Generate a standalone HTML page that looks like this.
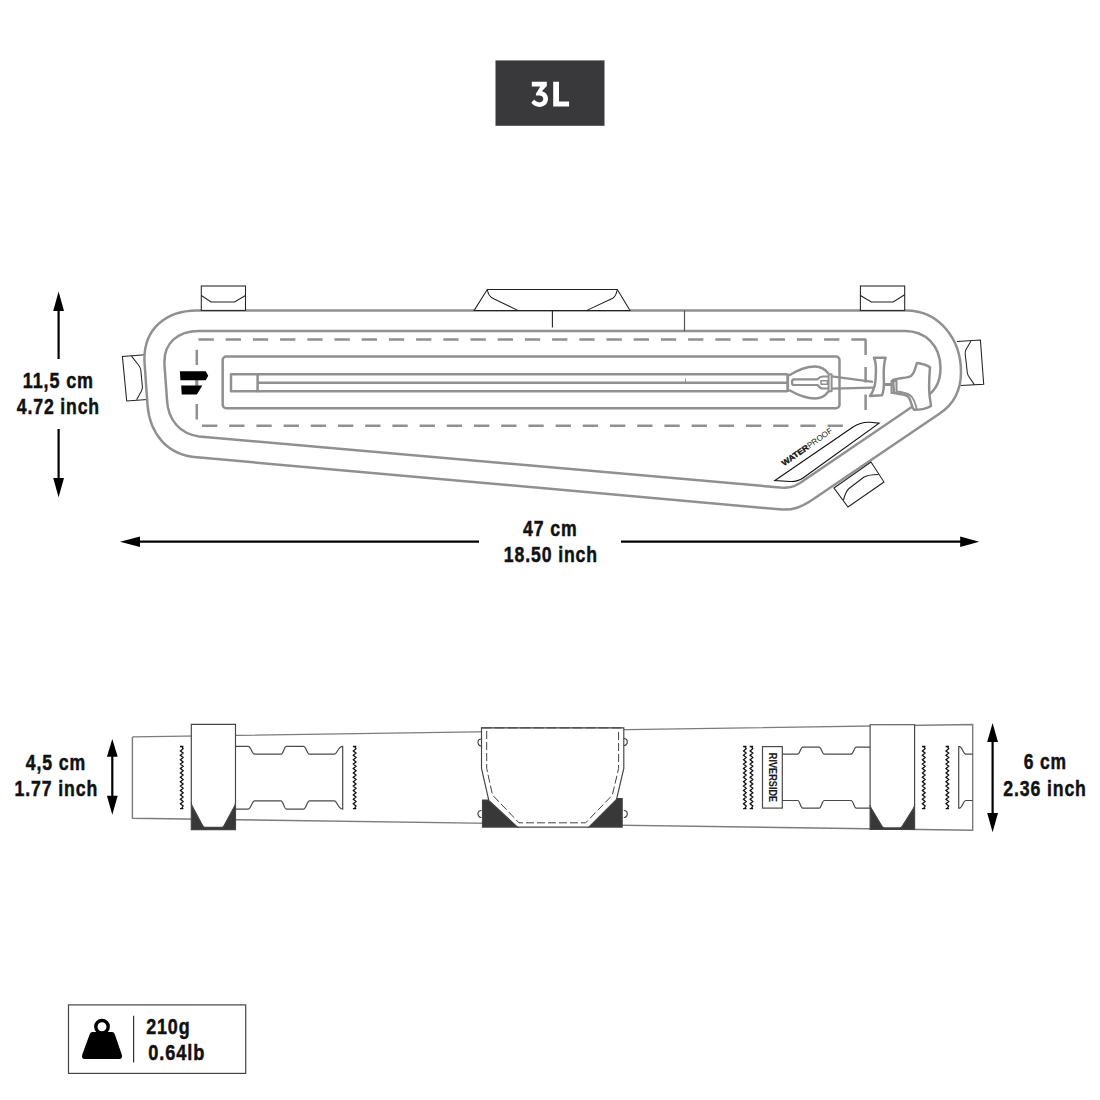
<!DOCTYPE html>
<html><head><meta charset="utf-8">
<style>
html,body{margin:0;padding:0;background:#fff;width:1100px;height:1100px;overflow:hidden;}
svg{display:block;}
text{font-family:"Liberation Sans",sans-serif;}
</style></head>
<body>
<svg width="1100" height="1100" viewBox="0 0 1100 1100">
<rect width="1100" height="1100" fill="#fff"/>

<!-- 3L badge -->
<rect x="495.5" y="60.4" width="109" height="65.4" fill="#39393b"/>
<path fill="#fff" d="M 531.8,81.8 L 546.8,81.8 L 546.8,85.9 L 541.9,91.2 C 545.6,92 548,95 548,98.8 C 548,103.7 544.3,106.9 539.5,106.9 C 536.2,106.9 533.3,105.4 531.3,102.8 L 534.2,99.6 C 535.5,101.3 537.3,102.4 539.5,102.4 C 541.8,102.4 543.3,100.9 543.3,98.8 C 543.3,96.7 541.8,95.4 539.3,95.4 L 535.9,95.4 L 535.9,93.8 L 540.3,86.6 L 531.8,86.6 Z M 553.2,81.8 L 559,81.8 L 559,101.6 L 569.1,101.6 L 569.1,106.5 L 553.2,106.5 Z"/>

<!-- ===== TOP DRAWING ===== -->
<!-- side tabs (under outline) -->
<g fill="#fff" stroke="#222" stroke-width="1.05" stroke-linejoin="miter">
  <path d="M 145,354.8 L 122.4,356.4 L 126.7,401 L 147.5,399.5"/>
  <path fill="none" d="M 131.5,356.2 L 138.5,365 C 140,367 140.5,368 140.8,370 L 142.4,387 C 142.5,389 142,390 141.2,391.5 L 136.6,399.7"/>
  <path d="M 957,341.6 L 980.4,340.1 L 983.7,384.2 L 960.5,385.6"/>
  <path fill="none" d="M 970.9,341.3 L 966,349.5 C 965.3,350.8 965,352 965.2,354 L 967.3,372.5 C 967.5,374 968,375.3 969,376.8 L 974.5,384.9"/>
</g>

<g fill="none" stroke="#909090" stroke-width="2.5" stroke-linejoin="round" stroke-linecap="butt">
  <!-- outer outline -->
  <path id="outer" d="M 197,310.4 L 906,310.4 C 940,310.4 961,340 961,372 C 961,392 953,405 939,414 L 812,500 C 800,508 792,510 782,509.5 L 197,457.3 C 168,455 150,435 147.5,405 L 144.5,362 C 143,330 165,310.4 197,310.4 Z"/>
  <!-- inner outline -->
  <path d="M 199,330.9 L 905,330.9 C 925,330.9 940.5,345 940.5,368 C 940.5,385 933,392 925,398 L 800,483 C 793,487.5 788,488 780,487.5 L 199,436.4 C 180,434 168,420 167,400 L 164.5,365 C 163,343 178,330.9 199,330.9 Z"/>
  <!-- dashed -->
  <g stroke-dasharray="15.3 11.9">
    <line x1="198.5" y1="339.4" x2="866.2" y2="339.4"/>
    <line x1="202" y1="425.8" x2="845" y2="425.8"/>
    <line x1="196.8" y1="349.7" x2="196.8" y2="420"/>
    <line x1="865.6" y1="339.4" x2="865.6" y2="410" stroke-dasharray="15.5 12"/>
  </g>
  <!-- zipper -->
  <rect x="222.7" y="356.6" width="616.8" height="51.6" rx="3.5"/>
  <rect x="231" y="374.2" width="26.6" height="17.1"/>
  <line x1="257.6" y1="374.2" x2="787.3" y2="374.2"/>
  <line x1="257.6" y1="382.7" x2="787.3" y2="382.7"/>
  <line x1="257.6" y1="391.3" x2="787.3" y2="391.3"/>
  <!-- slider -->
  <rect x="786.3" y="373.5" width="2.8" height="18.5" fill="#909090" stroke="none"/>
  <path d="M 789,375.5 C 796,371 806,366.5 815,366.5 C 821,366.5 825.5,369.5 828.5,373.5 M 789,390 C 796,394 806,398.5 815,398.5 C 821,398.5 825.5,395.5 828.5,391.5"/>
  <path d="M 794,379.3 L 817.5,379.3 C 819.5,377.2 821,376.5 823,376.5 L 828.5,376.5 M 794,385 L 817.5,385 C 819.5,387.6 821,388.5 823,388.5 L 828.5,388.5 M 794,379.3 C 791.3,379.3 791.3,385 794,385" stroke-width="2.2"/>
  <rect x="821" y="380.8" width="6.5" height="3.5" stroke-width="1.6"/>
  <rect x="828.6" y="374.2" width="3" height="17" stroke-width="2"/>
  <line x1="831.8" y1="376.4" x2="873" y2="381.8" stroke-width="2.2"/>
  <line x1="831.8" y1="388.6" x2="873" y2="387.7" stroke-width="2.2"/>
  <!-- toggle 1 -->
  <path fill="#fff" d="M 874,357.7 L 885.5,357.7 C 884,363 883.5,370 883.8,378 C 884,385 884.5,390 882,395.3 L 870,396 C 873,392 875,387 875.5,380 C 876,372 877,364 874,357.7 Z"/>
  <rect x="885" y="383" width="7" height="3" fill="#909090" stroke="none"/>
  <!-- toggle 2 -->
  <path fill="#fff" d="M 893,380 C 900,377.5 907,378.5 911,376 C 915,373 915.5,366 917,363 C 921,363.5 927,365 930,367.3 C 929.5,375 928.5,385 929.5,395 C 930,400 931,404 931,406 C 927,408.5 922,409.8 914,409.8 C 911,406 911,399 908,396.5 C 905,394 899,394 894,393 Z"/>
  <path d="M 896,391.5 C 903,392 907,393 910.5,395.5 C 914,398 915.5,404 917,409.8" stroke-width="1.8"/>
  <rect x="891.5" y="381" width="5" height="12" stroke-width="2"/>
</g>

<line x1="685.5" y1="378.5" x2="685.5" y2="382" stroke="#909090" stroke-width="1"/>
<!-- logo -->
<rect x="195.3" y="380" width="3" height="6" fill="#909090"/>
<path d="M 179.9,371.3 L 205.8,371.3 L 208.2,375.8 L 205.8,380.3 L 180.4,380.3 Z" fill="#000"/>
<path d="M 181.2,385.5 L 202.4,385.5 L 196.8,394.6 L 181.7,394.6 Z" fill="#000"/>

<!-- center vertical seams -->
<line x1="552.4" y1="310.4" x2="552.4" y2="327.6" stroke="#222" stroke-width="1.1"/>
<line x1="684.5" y1="310.4" x2="684.5" y2="330.9" stroke="#555" stroke-width="1.2"/>

<!-- tabs -->
<g fill="#fff" stroke="#222" stroke-width="1.05" stroke-linejoin="miter">
  <rect x="201.3" y="286" width="44.2" height="24.4"/>
  <polyline fill="none" points="201.3,295.5 211,302 234.5,302 245.5,295.5"/>
  <rect x="860.4" y="286" width="44.3" height="24.4"/>
  <polyline fill="none" points="860.4,295.5 871.3,302 893.1,302 904.7,294.7"/>
  <path d="M 474.2,310.4 L 487.3,289.5 L 617.3,289.5 L 630,310.4 Z"/>
  <path fill="none" d="M 487.3,289.5 C 488,294 489,296.5 492.7,298.2 L 517.8,310.4 M 617.3,289.5 C 616.5,294 615.5,296.5 612.7,298.2 L 586.9,310.4"/>
  <path d="M 834,488 L 871,462 L 884,482 L 848,507 Z"/>
  <path fill="none" d="M 843.5,500 C 845,494 846,491 849,488.5 L 864,477 C 868,475 873,474.5 878.5,474.5"/>
</g>

<!-- waterproof label -->
<path d="M 774.9,480.5 L 853,427 C 858,423.5 864,422 870,422.2 L 879.1,423.2 L 803,478 C 799,480.8 796,481.8 790,481.5 Z" fill="none" stroke="#111" stroke-width="1.1"/>
<g transform="translate(784,466.3) rotate(-35)">
  <text x="0" y="0" font-size="8" fill="#111"><tspan font-weight="bold" stroke="#111" stroke-width="0.3" textLength="31" lengthAdjust="spacingAndGlyphs">WATER</tspan><tspan fill="#222" textLength="29" lengthAdjust="spacingAndGlyphs">PROOF</tspan></text>
</g>

<!-- dimension arrows top -->
<g fill="#000">
  <line x1="58.6" y1="308" x2="58.6" y2="359" stroke="#000" stroke-width="2.2"/>
  <polygon points="58.6,291.6 64,311 53.2,311"/>
  <line x1="58.6" y1="429" x2="58.6" y2="480" stroke="#000" stroke-width="2.2"/>
  <polygon points="58.6,497.3 64,478 53.2,478"/>
  <line x1="137" y1="541.7" x2="479" y2="541.7" stroke="#000" stroke-width="2.2"/>
  <polygon points="120,541.7 140,536.6 140,546.9"/>
  <line x1="621" y1="541.7" x2="963" y2="541.7" stroke="#000" stroke-width="2.2"/>
  <polygon points="979.2,541.7 960.2,536.5 960.2,547"/>
</g>


<!-- ===== BOTTOM DRAWING ===== -->
<g fill="none" stroke="#7c7c7c" stroke-width="1.4">
  <polyline points="132.4,736.9 972.7,724.5 972.7,830.3 132.4,818.2 132.4,736.9"/>
</g>
<g fill="none" stroke="#4a4a4a" stroke-width="1.2">
  <!-- buckle left -->
  <path d="M 235.5,746.4 L 248.2,746.4 C 251,746.4 252,754.2 254.5,754.2 L 280.9,754.2 C 283.5,754.2 284,746.4 286.4,746.4 L 303.6,746.4 C 306,746.4 307,754.2 309.5,754.2 L 334.5,754.2 C 337,754.2 338,746.4 342.7,746.4 L 342.7,809.1 C 338,809.1 337,800.9 334.5,800.9 L 309.5,800.9 C 307,800.9 306,809.1 303.6,809.1 L 286.4,809.1 C 284,809.1 283.5,800.9 280.9,800.9 L 254.5,800.9 C 252,800.9 251,809.1 248.2,809.1 L 235.5,809.1"/>
  <!-- buckle right -->
  <path d="M 782.3,754.2 L 797.6,754.2 C 800,754.2 800.5,747.1 802.7,747.1 L 819.2,747.1 C 821.5,747.1 822,754.2 824.3,754.2 L 851,754.2 C 853.5,754.2 854,747.1 856.1,747.1 L 870.1,747.1 M 782.3,800.5 L 797.6,800.5 C 800,800.5 800.5,808.1 802.7,808.1 L 819.2,808.1 C 821.5,808.1 822,800.5 824.3,800.5 L 851,800.5 C 853.5,800.5 854,808.1 856.1,808.1 L 870.1,808.1"/>
  <!-- right end stub -->
  <path d="M 972.7,754.2 L 966,754.2 C 963,754.2 962.5,746.6 959.5,746.6 L 958.7,746.6 L 958.7,808.1 L 959.5,808.1 C 962.5,808.1 963,800.5 966,800.5 L 972.7,800.5"/>
  <!-- riverside box -->
  <rect x="762.5" y="746.6" width="19.8" height="61.5"/>
</g>
<text transform="translate(769,777.5) rotate(90)" x="0" y="0" font-size="10.4" font-weight="bold" fill="#1a1a1a" stroke="#1a1a1a" stroke-width="0.1" text-anchor="middle" textLength="49.3" lengthAdjust="spacingAndGlyphs">RIVERSIDE</text>

<!-- zigzags -->
<g fill="none" stroke="#111" stroke-width="1.3" id="zz">
  <path d="M 180,746.5 L 183.4,746.5 M 181.7,746.5 L 183.1,748.7 L 180.4,750.9 L 183.1,753.1 L 180.4,755.3 L 183.1,757.5 L 180.4,759.7 L 183.1,761.9 L 180.4,764.1 L 183.1,766.3 L 180.4,768.5 L 183.1,770.7 L 180.4,772.9 L 183.1,775.1 L 180.4,777.3 L 183.1,779.5 L 180.4,781.7 L 183.1,783.9 L 180.4,786.1 L 183.1,788.3 L 180.4,790.5 L 183.1,792.7 L 180.4,794.9 L 183.1,797.1 L 180.4,799.3 L 183.1,801.5 L 180.4,803.7 L 183.1,805.9 L 181.7,808.6 M 180,808.6 L 183.4,808.6"/>
</g>
<use href="#zz" x="172.9" y="0"/>
<use href="#zz" x="563.1" y="0"/>
<use href="#zz" x="569.7" y="0"/>
<use href="#zz" x="742" y="0"/>
<use href="#zz" x="765.6" y="0"/>

<!-- straps -->
<g stroke="#444" stroke-width="1.15">
  <path d="M 191.3,803 L 191.3,829.6 L 235.5,829.6 L 235.5,803 Z" fill="#383838"/>
  <path d="M 191.3,724.4 L 235.5,724.4 L 235.5,802.5 Q 235.5,804.5 234.5,806.2 L 224,825.7 Q 223.2,827.3 221.4,827.3 L 205.3,827.3 Q 203.5,827.3 202.7,825.7 L 192.3,806.2 Q 191.3,804.5 191.3,802.5 Z" fill="#fff"/>
  <path d="M 870.1,805 L 870.1,829.5 L 914.6,829.5 L 914.6,805 Z" fill="#383838"/>
  <path d="M 870.1,724.7 L 914.6,724.7 L 914.6,804.5 Q 914.6,806.5 913.5,808.2 L 902.2,826.3 Q 901.2,827.9 899.4,827.9 L 884.8,827.9 Q 883,827.9 882,826.3 L 871.2,808.2 Q 870.1,806.5 870.1,804.5 Z" fill="#fff"/>
  <!-- center pocket -->
  <path d="M 482.5,800 L 488.8,800 L 517.5,827.1 L 482.5,827.1 Z" fill="#383838"/>
  <path d="M 622.2,798.5 L 616.5,798.5 L 588.8,827.1 L 622.2,827.1 Z" fill="#383838"/>
  <path d="M 481.5,727.8 L 623.8,727.8 L 623.8,768.5 L 616.5,799.4 L 588.8,827.1 L 517.5,827.1 L 488.8,800.5 L 481.5,768.5 Z" fill="#fff"/>
  <path d="M 486.7,731 L 486.7,768.5 L 492.5,795 L 519,822.8 L 585.7,822.8 L 612.3,795.2 L 618.6,768.5 L 618.6,731" fill="none" stroke-dasharray="8 3" stroke-width="1"/>
  <line x1="481.5" y1="727.8" x2="623.8" y2="727.8" stroke="#555" stroke-width="1.6" stroke-dasharray="10 3"/>
  <path d="M 481.5,739 A 3.5,3.5 0 0 0 481.5,746 M 481.5,810.5 A 3.5,3.5 0 0 0 481.5,817.5 M 623.8,738.5 A 3.5,3.5 0 0 1 623.8,745.5 M 623.8,810.5 A 3.5,3.5 0 0 1 623.8,817.5" fill="none"/>
</g>

<!-- bottom arrows -->
<g fill="#000">
  <line x1="112.3" y1="754" x2="112.3" y2="798" stroke="#000" stroke-width="2.2"/>
  <polygon points="112.3,739 117.7,756.7 106.9,756.7"/>
  <polygon points="112.3,814.7 117.7,795.7 106.9,795.7"/>
  <line x1="992.6" y1="740" x2="992.6" y2="815" stroke="#000" stroke-width="2.2"/>
  <polygon points="992.6,723 998,742 987.2,742"/>
  <polygon points="992.6,832.2 998,813.1 987.2,813.1"/>
</g>


<!-- weight box -->
<rect x="68.5" y="1004.9" width="177.2" height="68.5" fill="none" stroke="#444" stroke-width="1.2"/>
<line x1="133.6" y1="1015.8" x2="133.6" y2="1062.5" stroke="#333" stroke-width="1.2"/>
<circle cx="102" cy="1026.7" r="6.2" fill="none" stroke="#000" stroke-width="3.4"/>
<path d="M 92.5,1032 L 112,1032 Q 114,1032 114.8,1034.2 L 121.8,1054.8 Q 122.8,1059 119.2,1059 L 84.8,1059 Q 81.2,1059 82.2,1054.8 L 89.7,1034.2 Q 90.5,1032 92.5,1032 Z" fill="#000"/>

<g id="labels" font-weight="bold" fill="#111" stroke="#111" stroke-width="0.5" font-size="22.4" letter-spacing="1.1">
  <text transform="translate(58.40,387.7) scale(0.802,1)" text-anchor="middle">11,5 cm</text>
  <text transform="translate(58.40,414.1) scale(0.787,1)" text-anchor="middle">4.72 inch</text>
  <text transform="translate(550.30,535.9) scale(0.789,1)" text-anchor="middle">47 cm</text>
  <text transform="translate(550.90,561.8) scale(0.789,1)" text-anchor="middle">18.50 inch</text>
  <text transform="translate(55.90,769.8) scale(0.790,1)" text-anchor="middle">4,5 cm</text>
  <text transform="translate(56.35,795.7) scale(0.791,1)" text-anchor="middle">1.77 inch</text>
  <text transform="translate(1045.25,769.4) scale(0.779,1)" text-anchor="middle">6 cm</text>
  <text transform="translate(1045.00,795.7) scale(0.790,1)" text-anchor="middle">2.36 inch</text>
  <text transform="translate(146.2,1033.8) scale(0.800,1)" text-anchor="start">210g</text>
  <text transform="translate(148.2,1060.4) scale(0.813,1)" text-anchor="start">0.64lb</text>
</g>
</svg>
</body></html>
